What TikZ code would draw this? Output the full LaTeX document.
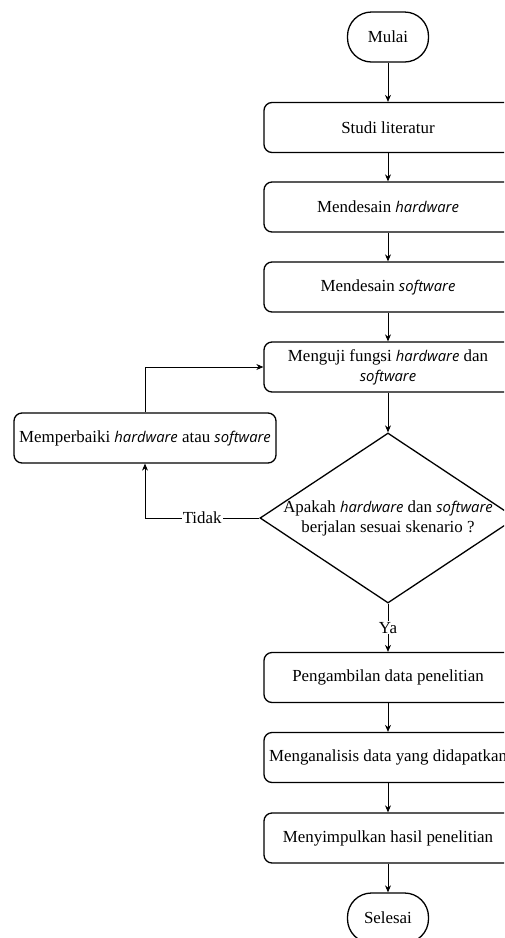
\documentclass[tikz,border=0pt]{standalone}
\usepackage{fontspec}
\setmainfont{Liberation Serif}
\newfontfamily\osans{Open Sans}
\usetikzlibrary{arrows.meta,shapes.geometric}
\newcommand{\emw}[1]{{\osans\itshape\fontsize{14.8}{20}\selectfont #1}}
\tikzset{
  base/.style={font=\fontsize{16.9}{20}\selectfont, align=center, inner sep=0pt},
  procbox/.style={base, draw, line width=1.3pt, rounded corners=8pt, minimum width=248pt, minimum height=50pt},
  termbox/.style={base, draw, line width=1.3pt, rounded corners=24pt, minimum width=81pt, minimum height=50pt},
  decbox/.style={diamond, draw, line width=1.3pt, minimum width=256pt, minimum height=170pt, inner sep=0pt},
  conn/.style={line width=0.8pt, -{Stealth[length=7pt,width=6pt]}},
  lbl/.style={base, fill=white, inner sep=1pt}
}
\begin{document}
\begin{tikzpicture}[x=1pt,y=-1pt]
\useasboundingbox (0,0) rectangle (504,938);
\clip (0,0) rectangle (504,938);
\node[termbox] (mulai) at (388,37) {Mulai};
\node[procbox] (studi) at (388,127.5) {Studi literatur};
\node[procbox] (hw) at (388,207) {Mendesain \emw{hardware}};
\node[procbox] (sw) at (388,287) {Mendesain \emw{software}};
\node[procbox] (uji) at (388,367) {Menguji fungsi \emw{hardware} dan\\ \emw{software}};
\node[decbox] (dec) at (388,518) {};
\node[base] (dectext) at (388,518) {Apakah \emw{hardware} dan \emw{software}\\berjalan sesuai skenario ?};
\node[procbox, minimum width=262pt] (fix) at (145,438) {Memperbaiki \emw{hardware} atau \emw{software}};
\node[procbox] (ambil) at (388,677.5) {Pengambilan data penelitian};
\node[procbox] (analisis) at (388,757.5) {Menganalisis data yang didapatkan};
\node[procbox] (simpul) at (388,838) {Menyimpulkan hasil penelitian};
\node[termbox] (selesai) at (388,918) {Selesai};

\draw[conn] (mulai) -- (studi);
\draw[conn] (studi) -- (hw);
\draw[conn] (hw) -- (sw);
\draw[conn] (sw) -- (uji);
\draw[conn] (uji) -- (dec.north);
\draw[conn] (dec.south) -- node[lbl] {Ya} (ambil);
\draw[conn] (ambil) -- (analisis);
\draw[conn] (analisis) -- (simpul);
\draw[conn] (simpul) -- (selesai);
\draw[conn] (dec.west) -- node[lbl] {Tidak} (fix.south |- dec.west) -- (fix.south);
\draw[conn] (fix.north) |- (uji.west);
\end{tikzpicture}
\end{document}
